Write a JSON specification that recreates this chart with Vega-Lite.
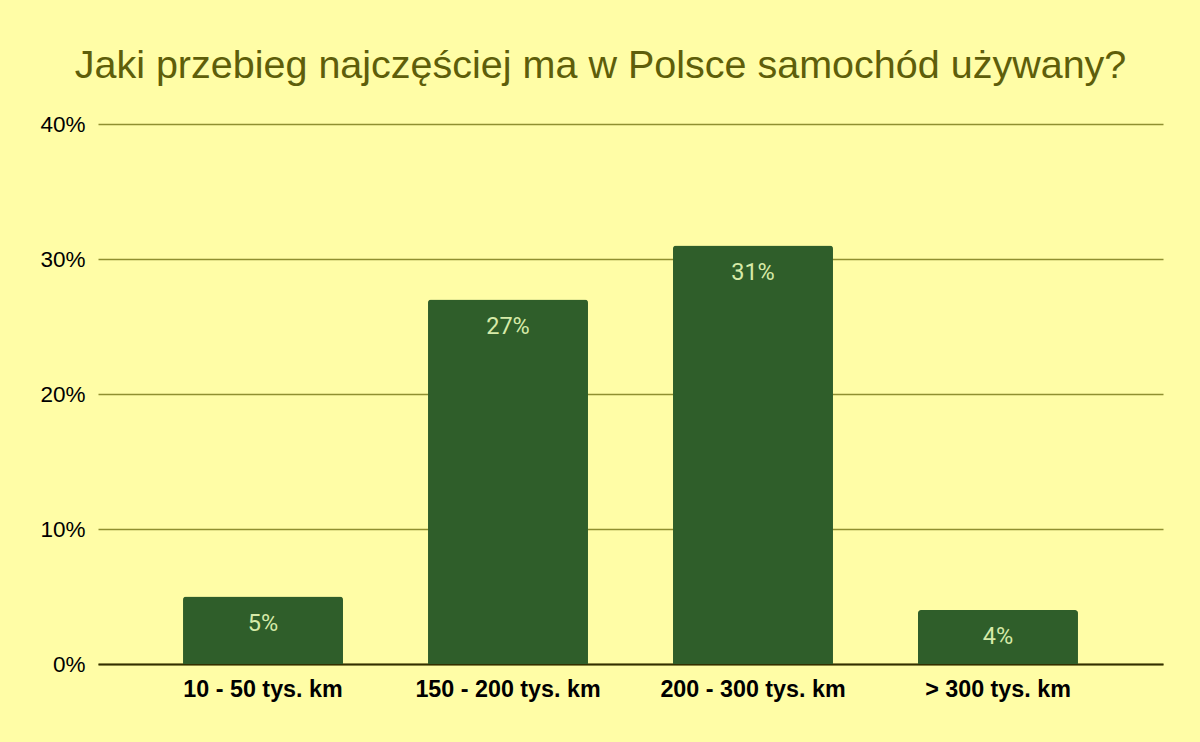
{
  "$schema": "https://vega.github.io/schema/vega-lite/v6.json",
  "autosize": {"type": "none"},
  "width": 1065,
  "height": 540,
  "padding": {"left": 98, "top": 124, "right": 37, "bottom": 78},
  "background": "#FFFDA6",
  "config": {"view": {"stroke": null}},
  "title": {
    "text": "Jaki przebieg najczęściej ma w Polsce samochód używany?",
    "font": "Liberation Sans",
    "fontSize": 39.5,
    "fontWeight": "normal",
    "color": "#5E5E0A",
    "anchor": "middle",
    "dx": -30,
    "offset": 27
  },
  "data": {
    "values": [
      {"przebieg": "10 - 50 tys. km", "udzial": 0.05},
      {"przebieg": "150 - 200 tys. km", "udzial": 0.27},
      {"przebieg": "200 - 300 tys. km", "udzial": 0.31},
      {"przebieg": "> 300 tys. km", "udzial": 0.04}
    ]
  },
  "encoding": {
    "x": {
      "field": "przebieg",
      "type": "nominal",
      "sort": null,
      "scale": {"paddingInner": 0.347, "paddingOuter": 0.347},
      "axis": {
        "title": null,
        "labelAngle": 0,
        "labelFont": "Liberation Sans",
        "labelFontSize": 23.3,
        "labelFontWeight": "bold",
        "labelColor": "#000000",
        "labelPadding": 14,
        "labelLimit": 400,
        "ticks": false,
        "domainColor": "#332F00",
        "domainWidth": 2
      }
    },
    "y": {
      "field": "udzial",
      "type": "quantitative",
      "scale": {"domain": [0, 0.4]},
      "axis": {
        "title": null,
        "values": [0, 0.1, 0.2, 0.3, 0.4],
        "format": ".0%",
        "labelFont": "Liberation Sans",
        "labelFontSize": 22.5,
        "labelColor": "#000000",
        "labelPadding": 13,
        "ticks": false,
        "domain": false,
        "gridColor": "#8F8F30",
        "gridWidth": 1.5
      }
    }
  },
  "layer": [
    {
      "mark": {"type": "bar", "color": "#2F5E2A", "cornerRadiusTopLeft": 3, "cornerRadiusTopRight": 3}
    },
    {
      "mark": {"type": "text", "baseline": "top", "dy": 15, "font": "Roboto", "fontSize": 23.5, "color": "#D6EAA8"},
      "encoding": {"text": {"field": "udzial", "type": "quantitative", "format": ".0%"}}
    }
  ]
}
